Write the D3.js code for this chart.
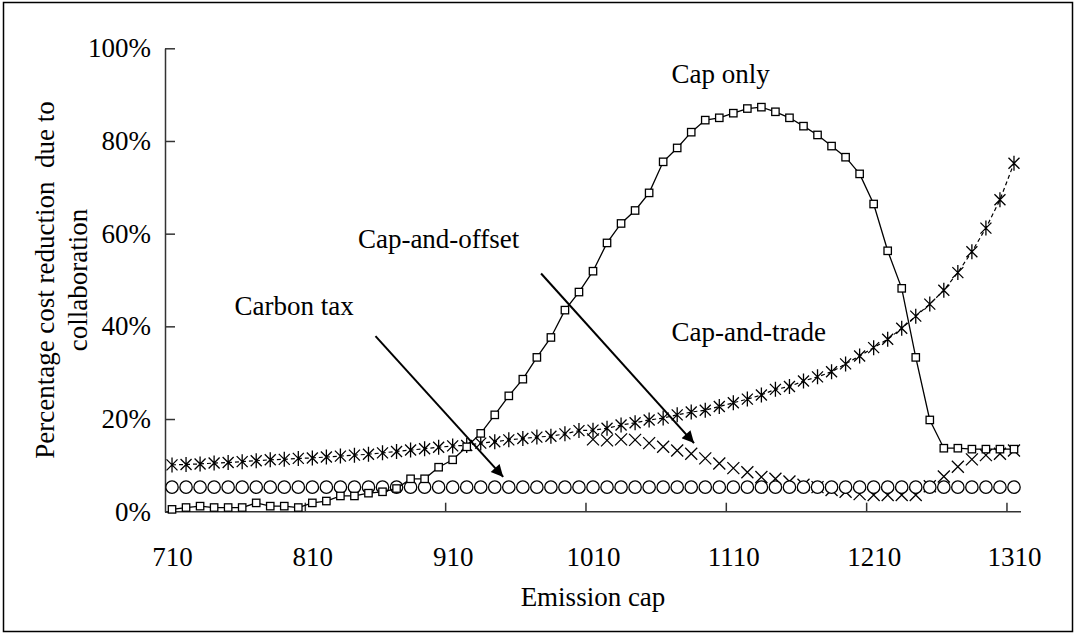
<!DOCTYPE html>
<html>
<head>
<meta charset="utf-8">
<script src="https://cdn.jsdelivr.net/npm/d3@7"></script>
<style>
  body { margin: 0; background: #fff; }
  svg { display: block; }
  text { font-family: "Liberation Serif", "Times New Roman", serif; fill: #000; }
</style>
</head>
<body>
<svg id="chart" width="1076" height="635"></svg>
<script>
// emission caps on the category axis, 710..1310 step 10
const caps = d3.range(710, 1311, 10);
const capLabels = [710, 810, 910, 1010, 1110, 1210, 1310];
const yTicks = [0, 20, 40, 60, 80, 100];

// percentage cost reduction
const capOnly = [0.5, 0.9, 1.2, 0.9, 0.9, 0.9, 1.9, 1.2, 1.2, 0.9,
  1.9, 2.3, 3.4, 3.4, 4.0, 4.3, 5.0, 7.1, 7.1, 9.6,
  11.2, 14.0, 16.9, 20.9, 25.0, 28.6, 33.3, 37.6, 43.5, 47.4,
  51.9, 58.0, 62.2, 65.0, 68.8, 75.5, 78.5, 81.9, 84.5, 85.0,
  86.0, 87.0, 87.3, 86.3, 85.0, 83.2, 81.3, 78.9, 76.5, 72.9,
  66.4, 56.3, 48.2, 33.3, 19.8, 13.7, 13.7, 13.5, 13.5, 13.5, 13.5];

const capTrade = [10.1, 10.2, 10.3, 10.5, 10.6, 10.8, 11.0, 11.2, 11.3, 11.5,
  11.6, 11.8, 12.0, 12.2, 12.4, 12.7, 13.0, 13.3, 13.6, 13.9,
  14.2, 14.3, 14.8, 15.1, 15.5, 15.8, 16.1, 16.3, 16.8, 17.5,
  17.6, 18.0, 18.7, 19.2, 19.8, 20.2, 20.9, 21.5, 21.9, 22.7,
  23.5, 24.3, 25.2, 26.4, 27.0, 28.2, 29.1, 30.2, 31.9, 33.6,
  35.4, 37.2, 39.6, 42.2, 44.8, 47.8, 51.6, 56.1, 61.2, 67.3, 75.2];

// same as cap-and-trade (hidden under it) until 1000
const capOffset = [null, null, null, null, null, null, null, null, null, null,
  null, null, null, null, null, null, null, null, null, null,
  null, null, null, null, null, null, null, null, null, null,
  15.6, 15.4, 15.6, 15.5, 14.8, 14.0, 13.2, 12.5, 11.5, 10.4,
  9.4, 8.5, 7.5, 7.1, 6.5, 5.8, 5.3, 4.7, 4.3, 3.8,
  3.6, 3.6, 3.6, 3.6, 5.5, 7.6, 9.7, 11.3, 12.2, 12.5, 13.2];

const carbonTax = [5.3, 5.3, 5.3, 5.3, 5.3, 5.3, 5.3, 5.3, 5.3, 5.3,
  5.3, 5.3, 5.3, 5.3, 5.3, 5.3, 5.3, 5.3, 5.3, 5.3,
  5.3, 5.3, 5.3, 5.3, 5.3, 5.3, 5.3, 5.3, 5.3, 5.3,
  5.3, 5.3, 5.3, 5.3, 5.3, 5.3, 5.3, 5.3, 5.3, 5.3,
  5.3, 5.3, 5.3, 5.3, 5.3, 5.3, 5.3, 5.3, 5.3, 5.3,
  5.3, 5.3, 5.3, 5.3, 5.3, 5.3, 5.3, 5.3, 5.3, 5.3, 5.3];

// annotation labels and arrows, in data units (cap, %)
const labels = [
  {text: "Cap only", x: 1101, y: 92.5},
  {text: "Cap-and-offset", x: 900, y: 57.0},
  {text: "Carbon tax", x: 797, y: 42.5},
  {text: "Cap-and-trade", x: 1121, y: 36.8}
];
const arrows = [
  {x1: 855, y1: 37.9, x2: 946, y2: 7.5},
  {x1: 973, y1: 51.4, x2: 1082, y2: 14.8}
];

const FONT = "27px";
const svg = d3.select("#chart");
const plotLeft = 165, plotRight = 1021, plotTop = 48.3, plotBottom = 511.7;

let xscale = d3.scalePoint()
    .domain(caps)
    .range([plotLeft, plotRight])
    .padding(0.5);
const step = xscale.step();
// continuous version for annotations
let xlin = d3.scaleLinear()
    .domain([710, 1310])
    .range([xscale(710), xscale(1310)]);
let yscale = d3.scaleLinear()
    .domain([0, 100])
    .range([plotBottom, plotTop]);

// outer frame
svg.append("rect")
    .attr("x", 3.5).attr("y", 2.5)
    .attr("width", 1069).attr("height", 629)
    .attr("fill", "none")
    .attr("stroke", "#000")
    .attr("stroke-width", 1.5);

// y axis
const yAxis = svg.append("g")
    .attr("transform", `translate(${plotLeft},0)`)
    .call(d3.axisLeft(yscale)
        .tickValues(yTicks)
        .tickFormat(d => d + "%")
        .tickSizeInner(-10)
        .tickSizeOuter(0)
        .tickPadding(14));
yAxis.select(".domain").attr("stroke", "#333").attr("stroke-width", 1.5);
yAxis.selectAll(".tick line").attr("stroke", "#333").attr("stroke-width", 1.5);
yAxis.selectAll("text")
    .style("font-family", "'Liberation Serif', serif")
    .style("font-size", FONT)
    .attr("fill", "#000");

// x axis: labels at category centres, ticks between categories
const xAxis = svg.append("g")
    .attr("transform", `translate(0,${plotBottom})`)
    .call(d3.axisBottom(xscale)
        .tickValues(capLabels)
        .tickSize(0));
xAxis.select(".domain").remove();
xAxis.selectAll("text")
    .style("font-family", "'Liberation Serif', serif")
    .style("font-size", FONT)
    .attr("fill", "#000")
    .attr("dy", "0.35em")
    .attr("y", 45);

svg.append("line")
    .attr("x1", plotLeft).attr("x2", plotRight)
    .attr("y1", plotBottom).attr("y2", plotBottom)
    .attr("stroke", "#333").attr("stroke-width", 1.5);
svg.selectAll(".xtick").data(capLabels.slice(1)).join("line")
    .attr("class", "xtick")
    .attr("x1", d => xscale(d) - step / 2)
    .attr("x2", d => xscale(d) - step / 2)
    .attr("y1", plotBottom)
    .attr("y2", plotBottom - 9)
    .attr("stroke", "#333").attr("stroke-width", 1.5);

// axis titles
svg.append("text")
    .attr("x", (plotLeft + plotRight) / 2)
    .attr("y", 597)
    .attr("dy", "0.35em")
    .attr("text-anchor", "middle")
    .style("font-size", FONT)
    .text("Emission cap");

const ytitle = svg.append("text")
    .attr("transform", `translate(45,${(plotTop + plotBottom) / 2}) rotate(-90)`)
    .attr("text-anchor", "middle")
    .style("font-size", FONT);
ytitle.append("tspan").attr("x", 0).attr("dy", "0.35em")
    .style("white-space", "pre")
    .text("Percentage cost reduction  due to");
ytitle.append("tspan").attr("x", 0).attr("dy", "1.22em").text("collaboration");

function pts(values) {
    return caps.map((c, i) => ({x: c, v: values[i]})).filter(d => d.v != null);
}

// cap-and-offset: x marks
svg.append("g").selectAll("path").data(pts(capOffset)).join("path")
    .attr("transform", d => `translate(${xscale(d.x)},${yscale(d.v)})`)
    .attr("d", "M-6,-6L6,6M-6,6L6,-6")
    .attr("fill", "none")
    .attr("stroke", "#000")
    .attr("stroke-width", 1.3);

// cap-and-trade: dashed line + asterisks
svg.append("path")
    .datum(pts(capTrade))
    .attr("d", d3.line().x(d => xscale(d.x)).y(d => yscale(d.v)))
    .attr("fill", "none")
    .attr("stroke", "#000")
    .attr("stroke-width", 1.2)
    .attr("stroke-dasharray", "4,3");
svg.append("g").selectAll("path").data(pts(capTrade)).join("path")
    .attr("transform", d => `translate(${xscale(d.x)},${yscale(d.v)})`)
    .attr("d", "M-5.5,-5.5L5.5,5.5M-5.5,5.5L5.5,-5.5M0,-7.5L0,7.5")
    .attr("fill", "none")
    .attr("stroke", "#000")
    .attr("stroke-width", 1.3);

// carbon tax: hollow circles
svg.append("g").selectAll("circle").data(pts(carbonTax)).join("circle")
    .attr("cx", d => xscale(d.x))
    .attr("cy", d => yscale(d.v))
    .attr("r", 6.2)
    .attr("fill", "#fff")
    .attr("stroke", "#000")
    .attr("stroke-width", 1.3);

// cap only: solid line + squares
svg.append("path")
    .datum(pts(capOnly))
    .attr("d", d3.line().x(d => xscale(d.x)).y(d => yscale(d.v)))
    .attr("fill", "none")
    .attr("stroke", "#000")
    .attr("stroke-width", 1.3);
svg.append("g").selectAll("rect").data(pts(capOnly)).join("rect")
    .attr("x", d => xscale(d.x) - 3.7)
    .attr("y", d => yscale(d.v) - 3.7)
    .attr("width", 7.4)
    .attr("height", 7.4)
    .attr("fill", "#fff")
    .attr("stroke", "#000")
    .attr("stroke-width", 1.3);

// annotations
svg.append("defs").append("marker")
    .attr("id", "head")
    .attr("viewBox", "0 0 10 10")
    .attr("refX", 10).attr("refY", 5)
    .attr("markerWidth", 7).attr("markerHeight", 6)
    .attr("markerUnits", "strokeWidth")
    .attr("orient", "auto")
    .append("path")
    .attr("d", "M0,0L10,5L0,10Z")
    .attr("fill", "#000");

svg.selectAll(".arrow").data(arrows).join("line")
    .attr("class", "arrow")
    .attr("x1", d => xlin(d.x1)).attr("y1", d => yscale(d.y1))
    .attr("x2", d => xlin(d.x2)).attr("y2", d => yscale(d.y2))
    .attr("stroke", "#000")
    .attr("stroke-width", 2)
    .attr("marker-end", "url(#head)");

svg.selectAll(".note").data(labels).join("text")
    .attr("class", "note")
    .attr("x", d => xlin(d.x))
    .attr("y", d => yscale(d.y))
    .attr("text-anchor", "middle")
    .style("font-size", FONT)
    .text(d => d.text);
</script>
</body>
</html>
